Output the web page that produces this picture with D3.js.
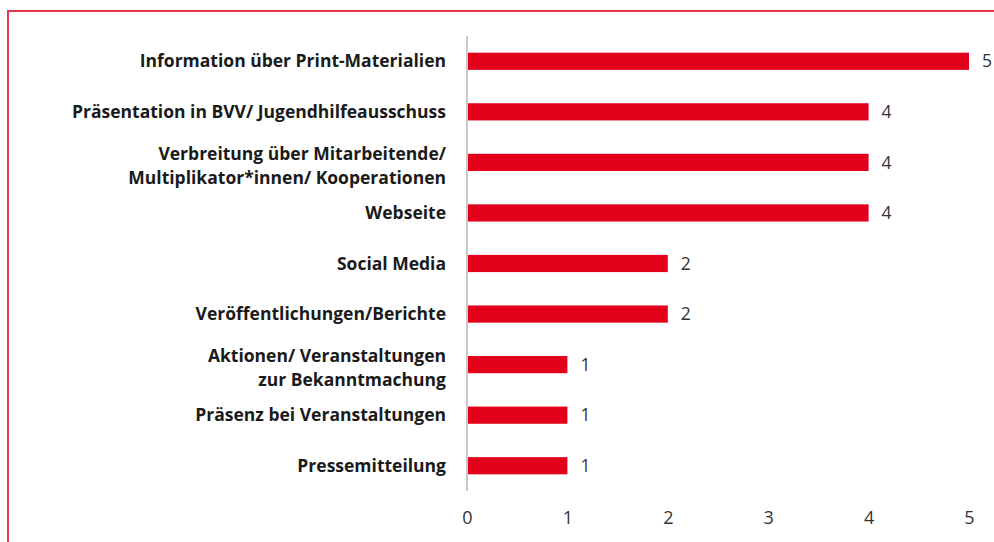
<!DOCTYPE html>
<html>
<head>
<meta charset="utf-8">
<script src="https://cdn.jsdelivr.net/npm/d3@7"></script>
<style>
  body { margin: 0; background: #fff; }
  svg { display: block; }
  text { font-family: "Open Sans", "Noto Sans", sans-serif; }
</style>
</head>
<body>
<svg id="chart" width="994" height="542"></svg>
<script>
// categories, top to bottom (lines split where the label wraps)
var categories = [
  ["Information über Print-Materialien"],
  ["Präsentation in BVV/ Jugendhilfeausschuss"],
  ["Verbreitung über Mitarbeitende/", "Multiplikator*innen/ Kooperationen"],
  ["Webseite"],
  ["Social Media"],
  ["Veröffentlichungen/Berichte"],
  ["Aktionen/ Veranstaltungen", "zur Bekanntmachung"],
  ["Präsenz bei Veranstaltungen"],
  ["Pressemitteilung"]
];
var counts = [5, 4, 4, 4, 2, 2, 1, 1, 1];
var ticks = [0, 1, 2, 3, 4, 5];

var RED = "#e2001a";

var svg = d3.select("#chart");

// frame
svg.append("path")
  .attr("d", "M8,542 V11 H994")
  .attr("fill", "none")
  .attr("stroke", "#e8364e")
  .attr("stroke-width", 2);

var x = d3.scaleLinear()
  .domain([0, 5])
  .range([467, 969]);

var y = d3.scaleBand()
  .domain(d3.range(categories.length))
  .range([36, 491])
  .paddingInner(0.66)
  .paddingOuter(0.33);

var g = svg.append("g");

g.selectAll("rect.bar")
  .data(counts)
  .enter()
  .append("rect")
  .attr("class", "bar")
  .attr("x", x(0))
  .attr("y", function(d, i) { return y(i); })
  .attr("width", function(d) { return x(d) - x(0); })
  .attr("height", y.bandwidth())
  .attr("fill", RED);

// vertical axis line
g.append("line")
  .attr("x1", x(0)).attr("x2", x(0))
  .attr("y1", 36).attr("y2", 491)
  .attr("stroke", "#c8c8c8")
  .attr("stroke-width", 2);

// value labels
g.selectAll("text.val")
  .data(counts)
  .enter()
  .append("text")
  .attr("class", "val")
  .attr("x", function(d) { return x(d) + 13; })
  .attr("y", function(d, i) { return y(i) + y.bandwidth() / 2; })
  .attr("dy", "0.35em")
  .attr("font-size", 17.5)
  .attr("fill", "#333")
  .text(function(d) { return d; });

// category labels
var labels = g.selectAll("text.cat")
  .data(categories)
  .enter()
  .append("text")
  .attr("class", "cat")
  .attr("text-anchor", "end")
  .attr("font-size", 17.5)
  .attr("font-weight", "bold")
  .attr("fill", "#1a1a1a")
  .attr("transform", function(d, i) {
    var cy = y(i) + y.bandwidth() / 2;
    if (d.length > 1) cy += 3;
    return "translate(446," + cy + ")";
  });

labels.selectAll("tspan")
  .data(function(d) {
    return d.map(function(t, j) { return { t: t, j: j, n: d.length }; });
  })
  .enter()
  .append("tspan")
  .attr("x", 0)
  .attr("y", function(d) { return (d.j - (d.n - 1) / 2) * 24; })
  .attr("dy", "0.35em")
  .text(function(d) { return d.t; });

// x axis
var xAxis = d3.axisBottom(x)
  .tickValues(ticks)
  .tickSize(0)
  .tickPadding(0)
  .tickFormat(d3.format("d"));

var ax = svg.append("g")
  .attr("transform", "translate(0,511)")
  .call(xAxis);

ax.select(".domain").remove();
ax.selectAll("text")
  .attr("font-family", "\"Open Sans\", \"Noto Sans\", sans-serif")
  .attr("font-size", 18)
  .attr("fill", "#333");
</script>
</body>
</html>
